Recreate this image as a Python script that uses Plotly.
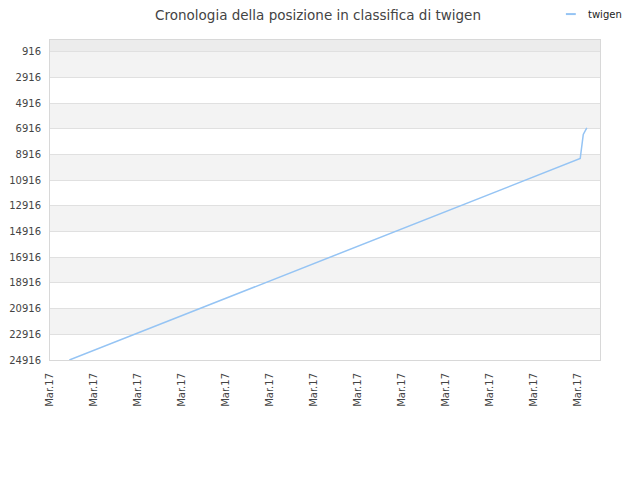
import plotly.graph_objects as go

# posizione in classifica
x_pos = [0.44, 12.05, 12.12, 12.2]
rank = [24916, 9230, 7350, 6850]
series_name = "twigen"

tick_vals = list(range(13))
tick_text = ["Mar.17"] * 13
y_ticks = [916, 2916, 4916, 6916, 8916, 10916, 12916, 14916, 16916, 18916, 20916, 22916, 24916]

line_color = "#95c4f4"

fig = go.Figure()
fig.add_trace(go.Scatter(
    x=x_pos, y=rank, mode="lines", name=series_name,
    line=dict(color=line_color, width=1.5),
))

# fasce alternate dello sfondo
shapes = [dict(type="rect", xref="paper", yref="y", x0=0, x1=1, y0=0, y1=916,
               fillcolor="#ececec", line_width=0, layer="below")]
for i in range(0, len(y_ticks) - 1, 2):
    shapes.append(dict(type="rect", xref="paper", yref="y", x0=0, x1=1,
                       y0=y_ticks[i], y1=y_ticks[i + 1],
                       fillcolor="#f3f3f3", line_width=0, layer="below"))

# legenda piccola, come nell'originale (trattino corto)
shapes.append(dict(type="line", xref="paper", yref="paper",
                   x0=0.938, x1=0.956, y0=1.081, y1=1.081,
                   line=dict(color=line_color, width=2)))

# la pagina ha un margine di 8px, quindi tutto e' spostato di 8px
fig.update_layout(
    width=640, height=480,
    margin=dict(l=42, r=48, t=32, b=128, autoexpand=False),
    paper_bgcolor="white", plot_bgcolor="white",
    font=dict(family="DejaVu Sans", size=10, color="#444"),
    title=dict(text="Cronologia della posizione in classifica di twigen",
               x=0.4844, xanchor="center", y=0.995, yanchor="top",
               pad=dict(t=0, b=0, l=0, r=0),
               font=dict(size=13.5, color="#444")),
    showlegend=False,
    shapes=shapes,
    annotations=[dict(text=series_name, xref="paper", yref="paper",
                      x=0.9745, y=1.081, xanchor="left", yanchor="middle",
                      showarrow=False, font=dict(size=10, color="#222"))],
)
fig.update_xaxes(range=[0, 12.5], tickvals=tick_vals, ticktext=tick_text,
                 tickangle=-90, showgrid=False, zeroline=False,
                 showline=True, linecolor="#d8d8d8", mirror=True,
                 ticks="", automargin=False, ticklabelstandoff=8,
                 tickfont=dict(size=10, color="#444"))
fig.update_yaxes(range=[24916, 0], tickvals=y_ticks, tickformat="d",
                 showgrid=True, gridcolor="#e0e0e0", zeroline=False,
                 showline=True, linecolor="#d8d8d8", mirror=True,
                 ticks="", automargin=False, ticklabelstandoff=6,
                 tickfont=dict(size=10, color="#444"))

fig.write_html("out.html")
